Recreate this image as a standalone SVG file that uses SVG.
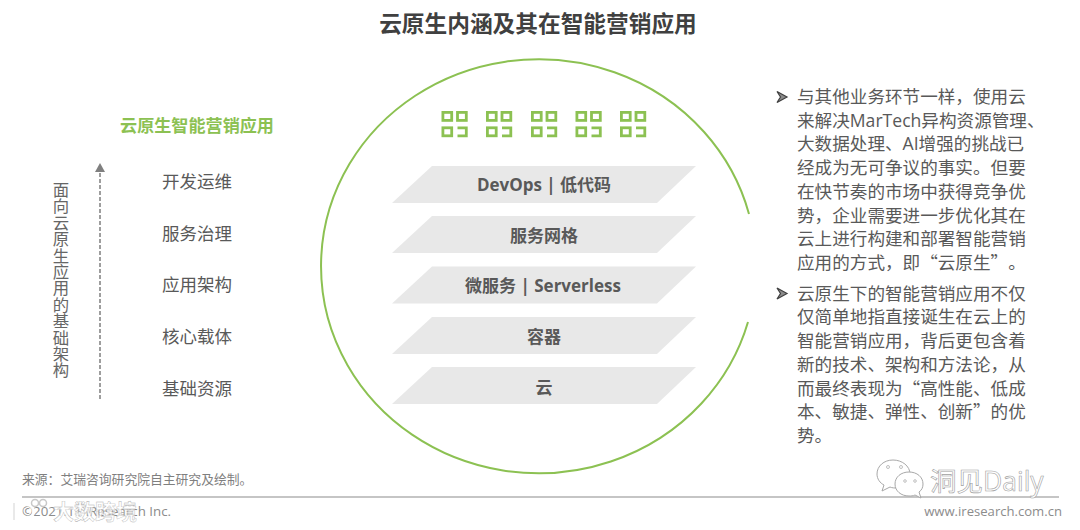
<svg xmlns="http://www.w3.org/2000/svg" width="1080" height="530" viewBox="0 0 1080 530">
<style>
text{font-family:"Open Sans","Noto Sans CJK SC",sans-serif;text-spacing-trim:space-all}
.q{font-family:"Noto Sans CJK SC",sans-serif}
.ttl{font-size:22.7px;font-weight:700;fill:#404040;text-anchor:middle}
.gt{font-size:17px;font-weight:700;fill:#595959;text-anchor:middle}
.lb{font-size:17.5px;fill:#595959;text-anchor:middle}
.bd{font-size:17.6px;fill:#595959}
.sq{fill:none;stroke:#8cc152;stroke-width:2.8}
.bar{fill:#e8e8e8}
.bul{fill:#8c8c8c;stroke:#404040;stroke-width:1.2}
.wc{fill:#fff;stroke:#a8a8a8;stroke-width:1}
.eye{fill:#fff;stroke:#b0b0b0;stroke-width:.8}
</style>
<rect width="1080" height="530" fill="#fff"/>
<text class="ttl" x="538" y="32">云原生内涵及其在智能营销应用</text>
<g id="connectors">
<path d="M749 214A217.500 207 0 1 0 748 322" fill="none" stroke="#8cc152" stroke-width="2"/>
<path d="M100 399V171" stroke="#7f7f7f" stroke-width="1.500" stroke-dasharray="4 2" fill="none"/>
<path d="M95 172L100 163L105 172Z" fill="#7f7f7f"/>
</g>
<g id="node-app"><text x="197" y="132" text-anchor="middle" font-size="17.100" font-weight="700" fill="#8cc152">云原生智能营销应用</text></g>
<g id="node-axis"><text x="61" y="280" font-size="16.400" fill="#666" text-anchor="middle" writing-mode="vertical-rl" class="q">面向云原生应用的基础架构</text></g>
<g id="node-l1"><text class="lb" x="197" y="188">开发运维</text></g>
<g id="node-l2"><text class="lb" x="197" y="240">服务治理</text></g>
<g id="node-l3"><text class="lb" x="197" y="291">应用架构</text></g>
<g id="node-l4"><text class="lb" x="197" y="343">核心载体</text></g>
<g id="node-l5"><text class="lb" x="197" y="395">基础资源</text></g>
<g id="node-icons">
<defs><g id="ic"><rect class="sq" x="1.400" y="1.400" width="8.800" height="8"/><rect class="sq" x="16" y="1.400" width="8.800" height="8"/><rect class="sq" x="1.400" y="16.800" width="8.800" height="8"/><path class="sq" d="M16 16.800H24.800V24.800H16"/></g></defs>
<use href="#ic" x="441.500" y="111"/><use href="#ic" x="486" y="111"/><use href="#ic" x="531" y="111"/><use href="#ic" x="575.500" y="111"/><use href="#ic" x="620" y="111"/>
</g>
<g id="node-bar1"><path class="bar" d="M432 166H696L657 203H392Z"/><text class="gt" x="544" y="191">DevOps | 低代码</text></g>
<g id="node-bar2"><path class="bar" d="M432 216H696L657 253H392Z"/><text class="gt" x="544" y="242">服务网格</text></g>
<g id="node-bar3"><path class="bar" d="M432 266.500H696L657 303.500H392Z"/><text class="gt" x="543" y="292">微服务 | Serverless</text></g>
<g id="node-bar4"><path class="bar" d="M432 317H696L657 354H392Z"/><text class="gt" x="544" y="343">容器</text></g>
<g id="node-bar5"><path class="bar" d="M432 367H696L657 404H392Z"/><text class="gt" x="544" y="394">云</text></g>
<g id="node-text">
<path class="bul" d="M777 91.500L787 97L777 102.500L780.500 97Z"/>
<text class="bd" x="797" y="103">与其他业务环节一样，使用云</text>
<text class="bd" x="797" y="127">来解决MarTech异构资源管理、</text>
<text class="bd" x="797" y="150">大数据处理、AI增强的挑战已</text>
<text class="bd" x="797" y="174">经成为无可争议的事实。但要</text>
<text class="bd" x="797" y="198">在快节奏的市场中获得竞争优</text>
<text class="bd" x="797" y="222">势，企业需要进一步优化其在</text>
<text class="bd" x="797" y="245">云上进行构建和部署智能营销</text>
<text class="bd q" x="797" y="269">应用的方式，即“云原生”。</text>
<path class="bul" d="M777 288L787 293.500L777 299L780.500 293.500Z"/>
<text class="bd" x="797" y="300">云原生下的智能营销应用不仅</text>
<text class="bd" x="797" y="323">仅简单地指直接诞生在云上的</text>
<text class="bd" x="797" y="347">智能营销应用，背后更包含着</text>
<text class="bd" x="797" y="371">新的技术、架构和方法论，从</text>
<text class="bd q" x="797" y="395">而最终表现为“高性能、低成</text>
<text class="bd q" x="797" y="418">本、敏捷、弹性、创新”的优</text>
<text class="bd" x="797" y="442">势。</text>
</g>
<g id="footer">
<text x="22" y="484" font-size="12.800" fill="#7f7f7f">来源：艾瑞咨询研究院自主研究及绘制。</text>
<path d="M22 497H1059" stroke="#8c8c8c" stroke-width="1.200"/>
<text x="22" y="516" font-size="13.300" fill="#8c8c8c">©2021.11 iResearch Inc.</text>
<text x="1062" y="516" font-size="13.100" fill="#8c8c8c" text-anchor="end">www.iresearch.com.cn</text>
</g>
<g id="watermark">
<text x="930" y="491" font-size="26.500" fill="#fff" stroke="#a0a0a0" stroke-width=".6">洞见Daily</text>
<path class="wc" d="M893 460C884 460 877 466 877 474C877 479 880 483 884 485L882 491L890 487C892 488 895 488 897 488C905 488 910 481 910 474C910 466 902 460 893 460Z"/>
<path class="wc" d="M909 472C901 472 895 477 895 484C895 491 901 496 909 496C911 496 913 496 915 495L921 498L919 492C922 490 923 487 923 484C923 477 917 472 909 472Z"/>
<circle class="eye" cx="888" cy="467" r="1.500"/><circle class="eye" cx="901" cy="467" r="1.500"/><circle class="eye" cx="905" cy="481" r="1.300"/><circle class="eye" cx="915" cy="481" r="1.300"/>
<text x="53" y="519" font-size="21" font-weight="700" fill="#fff" fill-opacity=".7" stroke="#b0b0b0" stroke-width=".4">大数跨境</text>
<path d="M14 503V520" stroke="#fff" stroke-width="4" opacity=".85"/>
<path d="M14 503V520" stroke="#c0c0c0" stroke-width=".7" fill="none"/>
<circle cx="26" cy="512" r="7.500" fill="none" stroke="#fff" stroke-width="3" opacity=".85"/>
<circle cx="35" cy="503" r="3.500" fill="none" stroke="#c8c8c8" stroke-width="1.500"/>
<circle cx="43" cy="503" r="3.500" fill="none" stroke="#c8c8c8" stroke-width="1.500"/>
</g>
</svg>
